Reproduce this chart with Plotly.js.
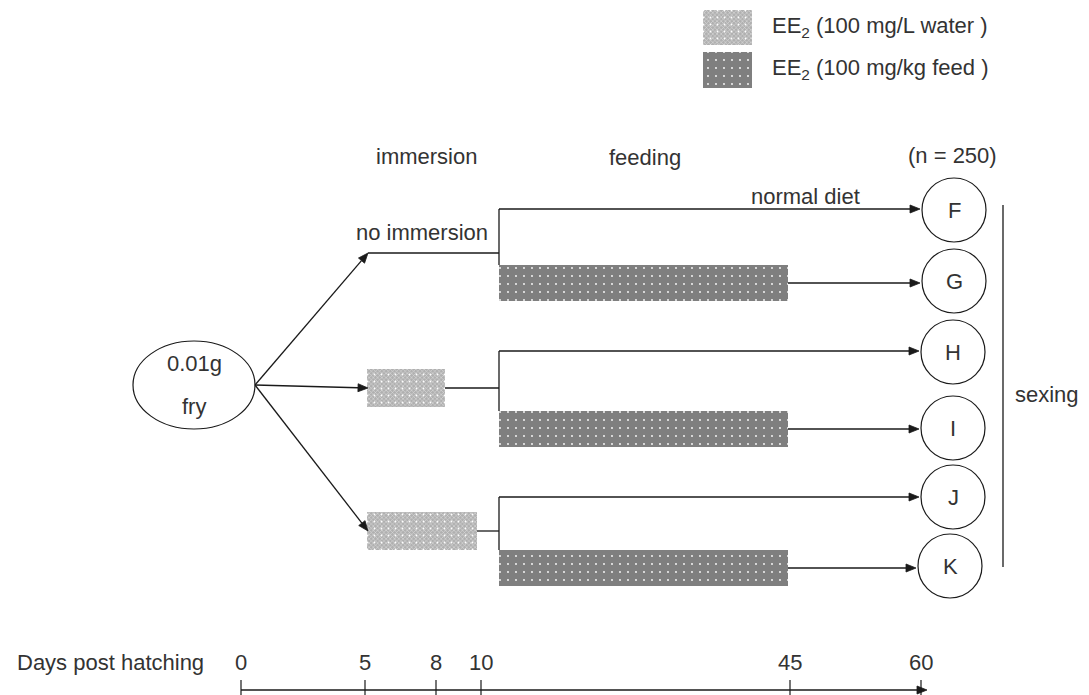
<!DOCTYPE html>
<html><head><meta charset="utf-8">
<script src="https://cdn.plot.ly/plotly-3.0.1.min.js"></script>
<style>html,body{margin:0;padding:0;background:#fff}#chart{width:1089px;height:695px}</style>
</head><body><div id="chart"></div>
<script>
// ---------------- data ----------------
const groups = ['F', 'G', 'H', 'I', 'J', 'K'];
const groupFedEE2 = [false, true, false, true, false, true];
const armLabels = ['no immersion', 'EE2 day 5-8', 'EE2 day 5-10'];
const immersionStart = [null, 5, 5];
const immersionEnd = [null, 8, 10];
const feedStartDay = 10;
const feedEndDay = 45;
const dayTicks = [0, 5, 8, 10, 45, 60];
const sampleSize = 250;
const phaseLabels = ['immersion', 'feeding'];
const legendLabels = ['EE<sub>2</sub> (100 mg/L water )', 'EE<sub>2</sub> (100 mg/kg feed )'];
const startLabel = ['0.01g', 'fry'];

// ---------------- layout geometry (pixel space) ----------------
const W = 1089, H = 695;
const dayAnchorPx = [241, 367, 445, 477, 788, 918];
function xOfDay(d) {
  for (let i = 0; i < dayTicks.length - 1; i++) {
    if (d <= dayTicks[i + 1]) {
      const t = (d - dayTicks[i]) / (dayTicks[i + 1] - dayTicks[i]);
      return dayAnchorPx[i] + t * (dayAnchorPx[i + 1] - dayAnchorPx[i]);
    }
  }
  return dayAnchorPx[dayAnchorPx.length - 1];
}
const timelinePx = [241, 365, 436, 481, 790, 921];
const timelineY = 690, timelineLabelY = 662;
const armY = [253, 388, 531];
const armStartX = 368;
const groupY = [209, 283, 351, 429, 497, 568];
const circleX = [954, 954, 953, 953, 953, 950];
const circleYc = [210, 281, 352, 428, 497, 566];
const circleR = 32;
const junctionX = 499;
const fry = {cx: 194, cy: 385, rx: 61, ry: 44};
const feedBarH = 36, waterBarH = 38;
const lineCol = '#1a1a1a', textCol = '#333333';
const FONT = 'Liberation Sans, Arial, sans-serif';
const FS = 22;

const waterPattern = {shape: 'x', bgcolor: '#b0b0b0', fgcolor: '#dcdcdc', size: 3, solidity: 0.35, fillmode: 'replace'};
const waterDots = {shape: '.', bgcolor: 'rgba(0,0,0,0)', fgcolor: '#ffffff', size: 7, solidity: 0.05, fillmode: 'replace'};
const feedPattern = {shape: '.', bgcolor: '#7f7f7f', fgcolor: '#ffffff', size: 8, solidity: 0.04, fillmode: 'replace'};

// ---------------- traces ----------------
const traces = [];
const wy = [], wb = [], wx = [];
armLabels.forEach((a, i) => {
  if (immersionStart[i] !== null) {
    wy.push(armY[i]);
    wb.push(xOfDay(immersionStart[i]));
    wx.push(xOfDay(immersionEnd[i]) - xOfDay(immersionStart[i]));
  }
});
function waterBars(y, x, base, width) {
  traces.push({type: 'bar', orientation: 'h', y, x, base, width,
    marker: {color: '#b0b0b0', pattern: waterPattern, line: {width: 0}}, hoverinfo: 'skip', showlegend: false});
  traces.push({type: 'bar', orientation: 'h', y, x, base, width,
    marker: {color: 'rgba(0,0,0,0)', pattern: waterDots, line: {width: 0}}, hoverinfo: 'skip', showlegend: false});
}
function feedBars(y, x, base, width) {
  traces.push({type: 'bar', orientation: 'h', y, x, base, width,
    marker: {color: '#7f7f7f', pattern: feedPattern, line: {width: 0}}, hoverinfo: 'skip', showlegend: false});
}
waterBars(wy, wx, wb, waterBarH);
const fy = [], fb = [], fx = [];
groups.forEach((g, i) => {
  if (groupFedEE2[i]) {
    fy.push(groupY[i]);
    fb.push(junctionX);
    fx.push(xOfDay(feedEndDay) - junctionX);
  }
});
feedBars(fy, fx, fb, feedBarH);
// legend swatches
waterBars([27.5], [49], [703], 35);
feedBars([70], [49], [703], 36);

// ---------------- shapes ----------------
const shapes = [];
const ln = (x0, y0, x1, y1, w) => shapes.push({type: 'line', xref: 'x', yref: 'y', x0, y0, x1, y1, line: {color: lineCol, width: w || 1.3}});
function arrow(x0, y0, x1, y1, w) {
  const dx = x1 - x0, dy = y1 - y0, L = Math.hypot(dx, dy);
  const ux = dx / L, uy = dy / L, hl = 10, hw = 4;
  const bx = x1 - ux * hl, by = y1 - uy * hl;
  ln(x0, y0, bx, by, w || 1.3);
  const p1 = [bx - uy * hw, by + ux * hw], p2 = [bx + uy * hw, by - ux * hw];
  shapes.push({type: 'path', xref: 'x', yref: 'y',
    path: `M${x1},${y1} L${p1[0]},${p1[1]} L${p2[0]},${p2[1]} Z`,
    fillcolor: lineCol, line: {color: lineCol, width: 0.8}});
}
shapes.push({type: 'circle', xref: 'x', yref: 'y', x0: fry.cx - fry.rx, x1: fry.cx + fry.rx, y0: fry.cy - fry.ry, y1: fry.cy + fry.ry, line: {color: lineCol, width: 1.2}});
groups.forEach((g, i) => {
  shapes.push({type: 'circle', xref: 'x', yref: 'y', x0: circleX[i] - circleR, x1: circleX[i] + circleR,
    y0: circleYc[i] - circleR, y1: circleYc[i] + circleR, line: {color: lineCol, width: 1.2}});
});
armLabels.forEach((a, i) => {
  const x0 = immersionStart[i] === null ? armStartX : xOfDay(immersionEnd[i]);
  ln(x0, armY[i], junctionX, armY[i]);
  ln(junctionX, groupY[2 * i], junctionX, groupY[2 * i + 1] - feedBarH / 2);
  arrow(fry.cx + fry.rx, fry.cy, armStartX, armY[i]);
});
groups.forEach((g, i) => {
  const start = groupFedEE2[i] ? xOfDay(feedEndDay) : junctionX;
  arrow(start, groupY[i], circleX[i] - circleR - 2, groupY[i]);
});
ln(1003, 205, 1003, 567, 1.3);
// timeline
arrow(timelinePx[0], timelineY, timelinePx[timelinePx.length - 1] + 6, timelineY, 1.5);
timelinePx.forEach(x => ln(x, timelineY - 10, x, H + 2, 1.2));

// ---------------- annotations (text) ----------------
const ann = [];
const txt = (x, y, text, anchor) => ann.push({x, y, xref: 'x', yref: 'y', text, showarrow: false,
  xanchor: anchor || 'center', yanchor: 'middle', font: {family: FONT, size: FS, color: textCol}});
groups.forEach((g, i) => txt(circleX[i], circleYc[i], g));
txt(fry.cx, 363, startLabel[0]);
txt(fry.cx, 406, startLabel[1]);
txt(422, 232, armLabels[0]);
txt(426, 156, phaseLabels[0]);
txt(645, 157, phaseLabels[1]);
txt(952, 155, '(n = ' + sampleSize + ')');
txt(805, 196, 'normal diet');
txt(1047, 394, 'sexing');
txt(770, 27, legendLabels[0], 'left');
txt(770, 69, legendLabels[1], 'left');
txt(110, timelineLabelY, 'Days post hatching');
dayTicks.forEach((d, i) => txt(timelinePx[i], timelineLabelY, String(d)));

const layout = {
  width: W, height: H,
  margin: {l: 0, r: 0, t: 0, b: 0},
  paper_bgcolor: '#ffffff', plot_bgcolor: '#ffffff',
  barmode: 'overlay',
  xaxis: {range: [0, W], visible: false, fixedrange: true},
  yaxis: {range: [H, 0], visible: false, fixedrange: true},
  shapes, annotations: ann, showlegend: false,
  font: {family: FONT, color: textCol}
};
Plotly.newPlot('chart', traces, layout, {displayModeBar: false, staticPlot: true});
</script></body></html>
